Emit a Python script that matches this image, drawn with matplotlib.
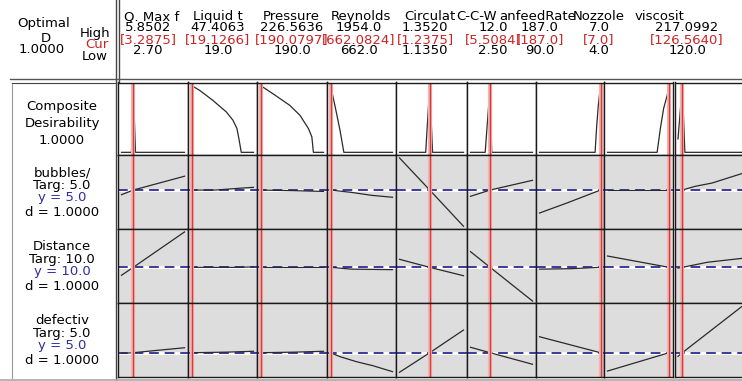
import matplotlib
matplotlib.use("Agg")
import matplotlib.pyplot as plt

# factor settings (header block)
factors = ["Q. Max f", "Liquid t", "Pressure", "Reynolds", "Circulat",
           "C-C-W", "anfeedRate", "Nozzole", "viscosit"]
high = [5.8502, 47.4063, 226.5636, 1954.0, 1.3520, 12.0, 187.0, 7.0, 217.0992]
low = [2.70, 19.0, 190.0, 662.0, 1.1350, 2.50, 90.0, 4.0, 120.0]
cur = [3.2875, 19.1266, 190.0797, 662.0824, 1.2375, 5.5084, 187.0, 7.0, 126.5640]
high_lbl = ["5.8502", "47.4063", "226.5636", "1954.0", "1.3520", "12.0", "187.0", "7.0", "217.0992"]
cur_lbl = ["[3.2875]", "[19.1266]", "[190.0797]", "[662.0824]", "[1.2375]",
           "[5.5084]", "[187.0]", "[7.0]", "[126.5640]"]
low_lbl = ["2.70", "19.0", "190.0", "662.0", "1.1350", "2.50", "90.0", "4.0", "120.0"]

# responses
responses = ["bubbles/", "Distance", "defectiv"]
targets = [5.0, 10.0, 5.0]
pred = ["5.0", "10.0", "5.0"]
resp_d = ["1.0000", "1.0000", "1.0000"]
composite_d = "1.0000"

# composite desirability curves (x, d) per factor
comp_x = [[2.70, 3.20, 3.2875, 3.40, 5.8502],
          [19.0, 22.8, 28.8, 35.0, 38.0, 39.8, 40.7, 41.8, 47.4063],
          [190.0, 197.2, 207.0, 212.9, 217.8, 219.8, 220.7, 226.5636],
          [662.0, 760.0, 860.0, 940.0, 1954.0],
          [1.135, 1.2238, 1.2375, 1.2471, 1.352],
          [2.5, 4.75, 5.5084, 5.75, 12.0],
          [90.0, 178.4, 181.0, 183.5, 187.0],
          [4.0, 6.42, 6.58, 6.74, 6.91, 7.0],
          [120.0, 126.564, 130.5, 217.0992]]
comp_d = [[0, 0, 1.0, 0, 0],
          [1.0, 0.926, 0.777, 0.603, 0.48, 0.357, 0.208, 0, 0],
          [1.0, 0.877, 0.703, 0.554, 0.357, 0.232, 0, 0],
          [1.0, 0.68, 0.33, 0, 0],
          [0, 0, 1.0, 0, 0],
          [0, 0, 1.0, 0, 0],
          [0, 0, 0.4, 0.7, 1.0],
          [0, 0, 0.36, 0.66, 0.85, 1.0],
          [0.2, 1.0, 0, 0]]

# bubbles/ response vs each factor
bub_x = [[2.7, 3.2875, 5.8502], [19, 30, 42, 47.4063], [190, 208, 226.5636],
         [662, 1101, 1514, 1954], [1.135, 1.2375, 1.352], [2.5, 5.5084, 12],
         [90, 134, 187], [4, 7], [120, 126.564, 146, 172, 217.0992]]
bub_y = [[4.76, 5.0, 5.71], [5.0, 5.0, 5.1, 5.14], [5.0, 4.97, 4.93],
         [5.0, 4.88, 4.73, 4.63], [6.65, 5.0, 3.14], [4.68, 5.0, 5.5],
         [3.82, 4.34, 5.0], [5.0, 5.0], [4.98, 5.0, 5.19, 5.36, 5.84]]

# Distance response
dist_x = [[2.7, 3.2875, 5.8502], [19, 40, 47.4063], [190, 226.5636],
          [662, 1100, 1954], [1.135, 1.2375, 1.352], [2.5, 5.5084, 12],
          [90, 140, 187], [4, 7], [120, 126.564, 165, 217.0992]]
dist_y = [[9.11, 10.0, 13.97], [10.0, 10.0, 10.05], [10.0, 10.0],
          [10.0, 9.8, 9.74], [10.9, 10.0, 9.06], [11.76, 10.0, 6.22],
          [9.8, 9.85, 10.0], [11.27, 10.0], [9.9, 10.0, 10.57, 11.0]]

# defectiv response
def_x = [[2.7, 3.2875, 4.5, 5.8502], [19, 35, 47.4063], [190, 210, 226.5636],
         [662, 866, 1205, 1546, 1954], [1.135, 1.2375, 1.352], [2.5, 5.5084, 12],
         [90, 187], [4, 7], [120, 126.564, 217.0992]]
def_y = [[4.95, 5.0, 5.2, 5.41], [5.0, 5.05, 5.12], [5.0, 5.05, 5.12],
         [5.0, 4.67, 4.26, 3.93, 3.44], [3.39, 5.0, 6.87], [5.45, 5.0, 4.05],
         [6.32, 5.0], [3.49, 5.0], [4.7, 5.0, 8.79]]

resp_x = [bub_x, dist_x, def_x]
resp_y = [bub_y, dist_y, def_y]

# layout in pixels
W, H = 742, 381
col_px = [(118, 188), (188, 257), (257, 327), (327, 396), (396, 467),
          (467, 536), (536, 604), (604, 672.5), (674.5, 745)]
row_px = [(82.5, 155), (155, 229), (229, 303), (303, 377)]
ylims = [(-0.04, 1.045), (3.0, 6.8), (6.0, 14.3), (3.0, 9.1)]
name_x = [152, 218, 291, 361, 430, 477, 538, 599, 660]
val_x = [148, 218, 292, 359, 425, 493, 540, 599, 687]

FS = 9.5
RED = "#cc2424"
BLUE = "#2e2e9e"

plt.rcParams['font.family'] = ['DejaVu Sans']
fig = plt.figure(figsize=(W / 100, H / 100), dpi=100)

bg = fig.add_axes([0, 0, 1, 1])
bg.set_xlim(0, W)
bg.set_ylim(H, 0)
bg.axis('off')


def cell(x0, x1, y0, y1):
    return fig.add_axes([x0 / W, 1 - y1 / H, (x1 - x0) / W, (y1 - y0) / H])


# frame lines
bg.plot([115.5, 115.5], [0, 381], color='#444444', lw=1.0)
bg.plot([118.5, 118.5], [0, 83], color='#444444', lw=1.0)
bg.plot([10, 742], [79, 79], color='#555555', lw=1.0)
bg.plot([12, 12], [83, 378], color='#9a9a9a', lw=0.8)
bg.plot([12, 115.5], [83, 83], color='#444444', lw=0.8)
bg.plot([0, 742], [379.5, 379.5], color='#a8a8a8', lw=1.2)

# header, left block
bg.text(44, 26.7, "Optimal", ha='center', va='baseline', fontsize=FS)
bg.text(46, 41.5, "D", ha='center', va='baseline', fontsize=FS)
bg.text(42, 53.3, composite_d, ha='center', va='baseline', fontsize=FS)
bg.text(110, 37.3, "High", ha='right', va='baseline', fontsize=FS)
bg.text(108, 47.5, "Cur", ha='right', va='baseline', fontsize=FS, color=RED)
bg.text(108, 60, "Low", ha='right', va='baseline', fontsize=FS)

for i in range(len(factors)):
    bg.text(name_x[i], 20, factors[i], ha='center', va='baseline', fontsize=FS)
    bg.text(val_x[i], 31, high_lbl[i], ha='center', va='baseline', fontsize=FS)
    bg.text(val_x[i], 42.7, cur_lbl[i], ha='center', va='baseline', fontsize=FS, color=RED)
    bg.text(val_x[i], 54, low_lbl[i], ha='center', va='baseline', fontsize=FS)

# row labels
bg.text(62, 110, "Composite", ha='center', va='baseline', fontsize=FS)
bg.text(62, 127.5, "Desirability", ha='center', va='baseline', fontsize=FS)
bg.text(62, 144.3, composite_d, ha='center', va='baseline', fontsize=FS)
for r in range(3):
    top = row_px[r + 1][0]
    bg.text(62, top + 21.5, responses[r], ha='center', va='baseline', fontsize=FS)
    bg.text(62, top + 34.5, "Targ: %.1f" % targets[r], ha='center', va='baseline', fontsize=FS)
    bg.text(62, top + 46.5, "y = " + pred[r], ha='center', va='baseline', fontsize=FS, color=BLUE)
    bg.text(62, top + 61.5, "d = " + resp_d[r], ha='center', va='baseline', fontsize=FS)

# panels
for i in range(len(factors)):
    lo, hi = low[i], high[i]
    x0, x1 = col_px[i]
    p = 3.5 / ((x1 - x0) - 7)
    xl = (lo - p * (hi - lo), hi + p * (hi - lo))
    for r in range(4):
        y0, y1 = row_px[r]
        ax = cell(x0, x1, y0, y1)
        ax.set_xlim(xl)
        ax.set_ylim(ylims[r])
        ax.set_facecolor('white' if r == 0 else '#dddddd')
        ax.set_xticks([])
        ax.set_yticks([])
        for s in ax.spines.values():
            s.set_color('#1a1a1a')
            s.set_linewidth(1.0)
        if r == 0:
            ax.plot(comp_x[i], comp_d[i], color='#2a2a2a', lw=0.9)
        else:
            t = targets[r - 1]
            ax.axhline(t, color='white', lw=2.0)
            ax.axhline(t, color='#3b3b9a', lw=1.4, dashes=(5, 3))
            ax.plot(resp_x[r - 1][i], resp_y[r - 1][i], color='#2a2a2a', lw=0.9)
        ax.axvline(cur[i], color='#f2b5b5', lw=3.0)
        ax.axvline(cur[i], color='#d93a3a', lw=1.0)

fig.savefig("out.png", dpi=100)
